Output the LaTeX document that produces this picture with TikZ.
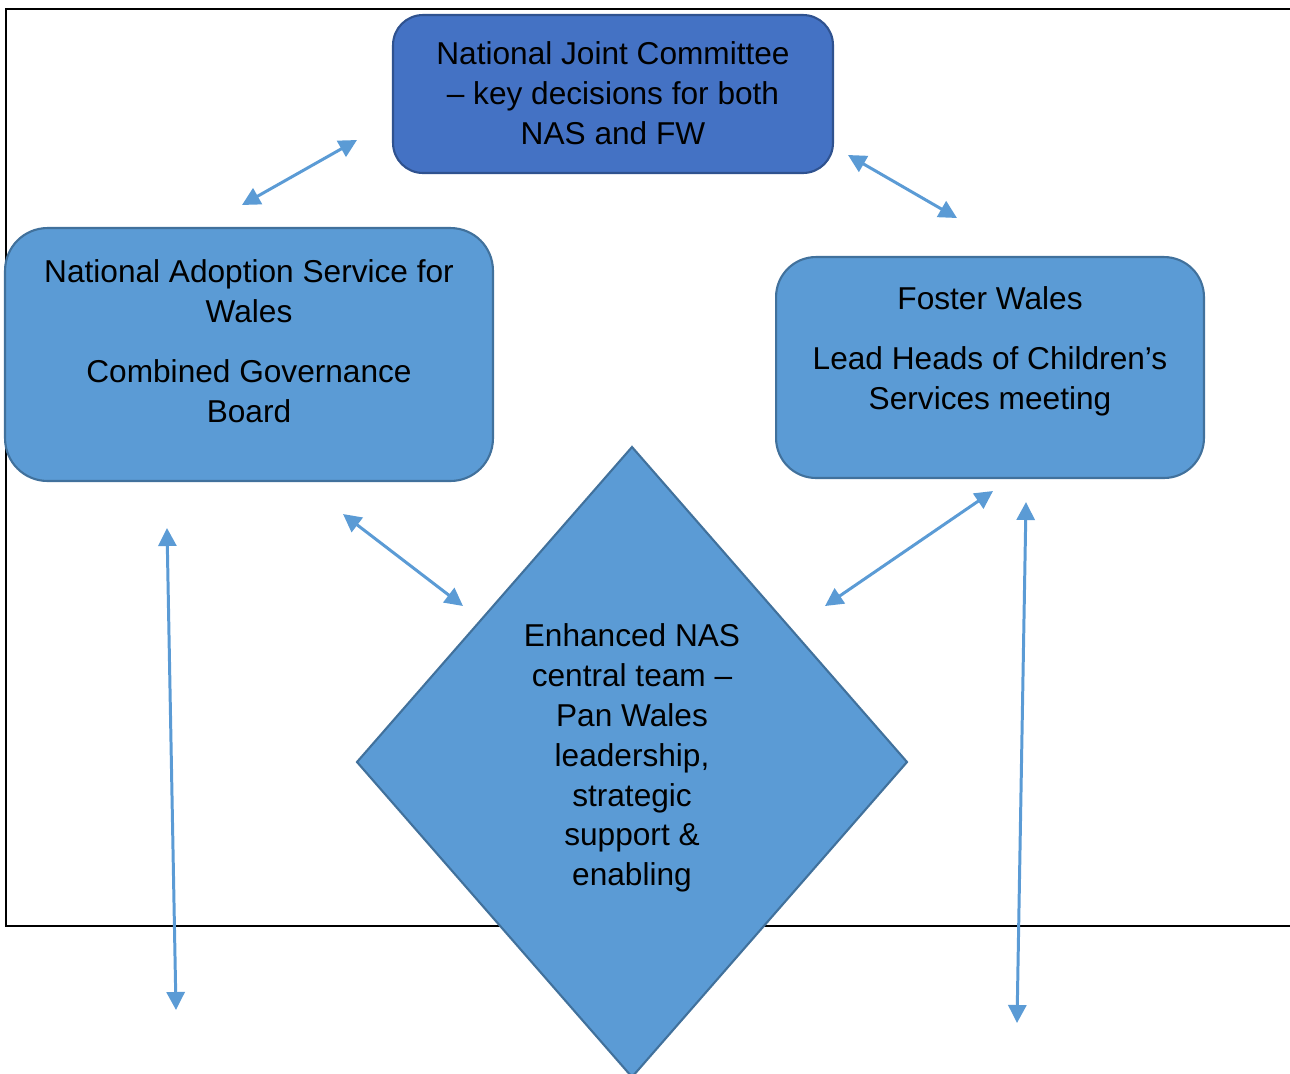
\documentclass[tikz,border=0pt]{standalone}
\usepackage{fontspec}
\setmainfont{Liberation Sans}
\usetikzlibrary{arrows.meta}

\definecolor{midblue}{HTML}{5B9BD5}
\definecolor{midedge}{HTML}{41719C}
\definecolor{darkblue}{HTML}{4472C4}
\definecolor{darkedge}{HTML}{2F528F}

\tikzset{
	box/.style={draw=midedge, fill=midblue, line width=1.2pt, rounded corners=0.85cm, inner sep=0pt},
	topbox/.style={box, draw=darkedge, fill=darkblue, rounded corners=0.6cm},
	txt/.style={align=center, font=\fontsize{18}{22.7}\selectfont, inner sep=0pt},
	link/.style={draw=midblue, line width=1.7pt,
		{Triangle[length=0.36cm,width=0.36cm]}-{Triangle[length=0.36cm,width=0.36cm]}}
}

\begin{document}
\begin{tikzpicture}[x=0.02cm, y=-0.02cm]
	\useasboundingbox (0,0) rectangle (1290,1073);
	\clip (0,0) rectangle (1290,1073);

	%frame
	\draw[line width=1.3pt] (1300,9)--(6,9)--(6,926)--(1300,926);

	%boxes
	\node[topbox, minimum width=8.8cm, minimum height=3.16cm] (njc) at (613,94) {};
	\node[box, minimum width=9.76cm, minimum height=5.06cm] (nas) at (249,354.5) {};
	\node[box, minimum width=8.56cm, minimum height=4.42cm, rounded corners=0.8cm] (fw) at (990,367.5) {};
	\draw[draw=midedge, fill=midblue, line width=1.2pt]
		(632,447)--(907,762)--(632,1077)--(357,762)--cycle;

	%labels
	\node[txt] (njctxt) at (613,93) {National Joint Committee\\ -- key decisions for both\\ NAS and FW};
	\node[txt] (nastxt) at (249,341) {National Adoption Service for\\ Wales\\[11.4pt] Combined Governance\\ Board};
	\node[txt] (fwtxt) at (990,351) {Foster Wales\\[11.4pt] Lead Heads of Children’s\\ Services meeting};
	\node[txt] (team) at (632,758) {Enhanced NAS\\ central team --\\ Pan Wales\\ leadership,\\ strategic\\ support \&\\ enabling};

	%arrow ends
	\coordinate (a1) at (242,205);  \coordinate (b1) at (357,140);
	\coordinate (a2) at (848,155);  \coordinate (b2) at (957,218);
	\coordinate (a3) at (343,514);  \coordinate (b3) at (463,606);
	\coordinate (a4) at (993,491);  \coordinate (b4) at (825,606);
	\coordinate (a5) at (167,528);  \coordinate (b5) at (176,1010);
	\coordinate (a6) at (1026,502); \coordinate (b6) at (1017,1023);

	%arrows
	\foreach \i in {1,...,6}
		\draw[link] (a\i)--(b\i);
\end{tikzpicture}
\end{document}
